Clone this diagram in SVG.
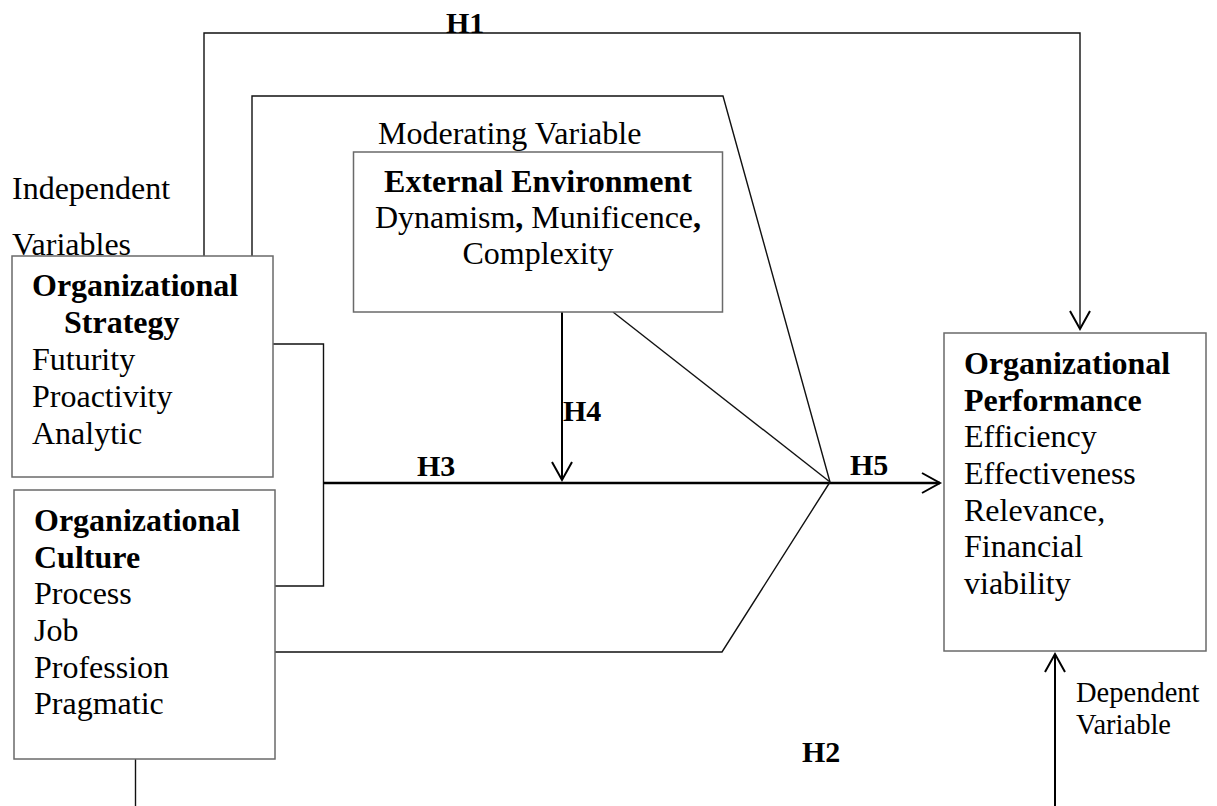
<svg xmlns="http://www.w3.org/2000/svg" width="1217" height="806" viewBox="0 0 1217 806">
<style>
  text { font-family: "Liberation Serif", "Times New Roman", serif; fill: #000; }
  .t { font-size: 32px; }
  .b { font-weight: bold; }
  .h { font-size: 30px; font-weight: bold; }
  .sm { font-size: 28.5px; }
  .box { fill: #fff; stroke: #6a6a6a; stroke-width: 1.5; }
  .ln { fill: none; stroke: #111; stroke-width: 1.4; }
  .ar { fill: none; stroke: #000; stroke-width: 2; }
  .main { fill: none; stroke: #000; stroke-width: 2.6; }
</style>
<defs>
  <marker id="arr" markerUnits="userSpaceOnUse" markerWidth="26" markerHeight="26" viewBox="-22 -13 26 26" refX="0" refY="0" orient="auto">
    <path d="M-18,-10 L0,0 L-18,10" fill="none" stroke="#000" stroke-width="2"/>
  </marker>
</defs>
<rect width="1217" height="806" fill="#fff"/>

<g id="labels">
  <text class="t" x="12" y="199">Independent</text>
  <text class="t" x="12" y="255">Variables</text>
  <text class="t" x="378" y="144">Moderating Variable</text>
  <text class="sm" x="1076" y="702">Dependent</text>
  <text class="sm" x="1076" y="734">Variable</text>
</g>

<g id="connectors">
  <polyline class="ln" points="204,256 204,33 1080,33 1080,329" marker-end="url(#arr)"/>
  <polyline class="ln" points="252,256 252,96 723,96 830,482"/>
  <polyline class="ln" points="273,344 323.5,344 323.5,586 275,586"/>
  <line class="main" x1="323.5" y1="483" x2="940" y2="483" marker-end="url(#arr)"/>
  <line class="ln" x1="613" y1="312" x2="830" y2="482"/>
  <line class="ar" x1="562" y1="312" x2="562" y2="480" marker-end="url(#arr)"/>
  <polyline class="ln" points="275,652 722,652 830,482"/>
  <line class="ln" x1="135.5" y1="759" x2="135.5" y2="806"/>
  <line class="ar" x1="1055" y1="806" x2="1055" y2="654" marker-end="url(#arr)"/>
  <text class="h" x="446" y="33">H1</text>
  <text class="h" x="802" y="762">H2</text>
  <text class="h" x="417" y="476">H3</text>
  <text class="h" x="563" y="421">H4</text>
  <text class="h" x="850" y="475">H5</text>
</g>

<g id="strategy">
  <rect class="box" x="12" y="256" width="261" height="221"/>
  <text class="t b" x="32" y="296">Organizational</text>
  <text class="t b" x="64" y="333">Strategy</text>
  <text class="t" x="32" y="370">Futurity</text>
  <text class="t" x="32" y="407">Proactivity</text>
  <text class="t" x="32" y="444">Analytic</text>
</g>

<g id="culture">
  <rect class="box" x="14" y="490" width="261" height="269"/>
  <text class="t b" x="34" y="531">Organizational</text>
  <text class="t b" x="34" y="568">Culture</text>
  <text class="t" x="34" y="604">Process</text>
  <text class="t" x="34" y="641">Job</text>
  <text class="t" x="34" y="678">Profession</text>
  <text class="t" x="34" y="714">Pragmatic</text>
</g>

<g id="environment">
  <rect class="box" x="353.5" y="152" width="369" height="160"/>
  <text class="t b" x="538" y="192" text-anchor="middle">External Environment</text>
  <text class="t" x="538" y="228" text-anchor="middle">Dynamism<tspan class="b">,</tspan> Munificence<tspan class="b">,</tspan></text>
  <text class="t" x="538" y="264" text-anchor="middle">Complexity</text>
</g>

<g id="performance">
  <rect class="box" x="944" y="333" width="262" height="318"/>
  <text class="t b" x="964" y="374">Organizational</text>
  <text class="t b" x="964" y="411">Performance</text>
  <text class="t" x="964" y="447">Efficiency</text>
  <text class="t" x="964" y="484">Effectiveness</text>
  <text class="t" x="964" y="521">Relevance,</text>
  <text class="t" x="964" y="557">Financial</text>
  <text class="t" x="964" y="594">viability</text>
</g>
</svg>
